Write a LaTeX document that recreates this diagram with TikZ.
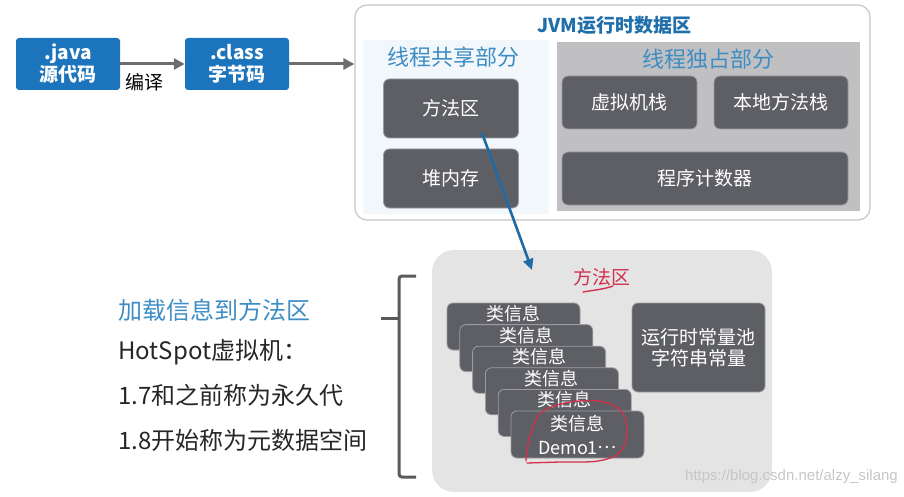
\documentclass[tikz,border=0pt]{standalone}
\usepackage{fontspec}
\setmainfont{Noto Sans CJK SC}
\newfontfamily\wmfont{Liberation Sans}
\usetikzlibrary{arrows.meta,calc}
\definecolor{jblue}{HTML}{1C75BC}
\definecolor{titleblue}{HTML}{1F6FAB}
\definecolor{subblue}{HTML}{3D8DC4}
\definecolor{dkgray}{HTML}{5E5F64}
\definecolor{boxedge}{HTML}{9C9CA0}
\definecolor{exclgray}{HTML}{C0C0C2}
\definecolor{sharedbg}{HTML}{F1F7FB}
\definecolor{mboxbg}{HTML}{E4E4E4}
\definecolor{arrgray}{HTML}{6D6D6D}
\definecolor{arrblue}{HTML}{1F6AA5}
\definecolor{redink}{HTML}{D2304C}
\definecolor{wmgray}{HTML}{C6C6C6}
\definecolor{brgray}{HTML}{5A5A5A}
\newcommand\fsz[2]{\fontsize{#1}{#2}\selectfont}
\tikzset{
  darkbox/.style={fill=dkgray, draw=boxedge, line width=0.8pt, rounded corners=6pt,
    text=white, font=\fsz{19pt}{21pt}, inner sep=0pt, align=center},
  bluebox/.style={fill=jblue, rounded corners=3pt, text=white, inner sep=0pt,
    minimum width=104pt, minimum height=52pt, align=center, font=\fsz{19pt}{22pt}\bfseries},
  garrow/.style={draw=arrgray, line width=3pt, -{Triangle[length=11pt,width=11pt]}},
  barrow/.style={draw=arrblue, line width=2.6pt, -{Triangle[length=11pt,width=10pt]}},
  subtitle/.style={text=subblue, font=\fsz{22pt}{24pt}},
  lefttext/.style={anchor=west, inner sep=0pt, font=\fsz{24pt}{26pt}},
  citext/.style={text=white, inner sep=0pt, font=\fsz{18pt}{24pt}, align=center},
}
\begin{document}
\begin{tikzpicture}[x=1pt,y=-1pt]
\useasboundingbox (0,0) rectangle (904,497);
% top-left boxes
\node[bluebox] (java) at (68,64) {.java\\源代码};
\node[bluebox] (cls) at (237,64) {.class\\字节码};
\node[font=\fsz{19pt}{21pt}, inner sep=0pt] (bianyi) at (144,82) {编译};
% JVM box
\node[draw=gray!45, line width=1.2pt, fill=white, rounded corners=12pt,
  minimum width=515pt, minimum height=215pt, inner sep=0pt] (jvm) at (612.5,112.5) {};
\draw[garrow] (java.east) -- (cls.west);
\draw[garrow] (cls.east) -- (cls.east -| jvm.west);
\node[text=titleblue, font=\fsz{19pt}{21pt}\bfseries, inner sep=0pt] (jvmtitle) at (614,25) {JVM运行时数据区};
\node[fill=sharedbg, minimum width=186pt, minimum height=174pt, inner sep=0pt] (shared) at (456,127) {};
\node[subtitle, inner sep=0pt] (shtitle) at (453,57) {线程共享部分};
\node[darkbox, minimum width=135pt, minimum height=59pt] (fq) at (451,108.5) {方法区};
\node[darkbox, minimum width=135pt, minimum height=59pt] (dnc) at (451,178.5) {堆内存};
\node[fill=exclgray, minimum width=303pt, minimum height=169pt, inner sep=0pt] (excl) at (708.5,126.5) {};
\node[subtitle, inner sep=0pt] (extitle) at (708,59) {线程独占部分};
\node[darkbox, minimum width=135pt, minimum height=53pt] (vm) at (629.5,102.5) {虚拟机栈};
\node[darkbox, minimum width=134pt, minimum height=53pt] (nm) at (781,102.5) {本地方法栈};
\node[darkbox, minimum width=286pt, minimum height=53pt] (pc) at (705,178.5) {程序计数器};
% method area detail
\node[fill=mboxbg, rounded corners=22pt, minimum width=340pt, minimum height=242pt, inner sep=0pt] (mbox) at (602,371) {};
\coordinate (bs) at (482,133);
\coordinate (be) at (532,270);
\draw[barrow] (bs) -- (be);
\node[text=redink, font=\fsz{19pt}{21pt}, inner sep=0pt] (mtitle) at (602,277) {方法区};
\draw[redink, line width=1.4pt, line cap=round] (583,292) .. controls (595,290) and (605,289) .. (613,286);
\foreach \k in {0,...,4} {
  \node[darkbox, minimum width=133pt, minimum height=47pt] (ci\k) at ({513.5+12.8*\k},{326.5+21.6*\k}) {};
  \node[citext] (ct\k) at ($(ci\k.north)+(0,11)$) {类信息};
}
\node[darkbox, minimum width=133pt, minimum height=47pt] (ci5) at (577.5,434.5) {};
\node[citext] (ct5) at ($(ci5.north)+(0,24)$) {类信息\\Demo1\raisebox{0.3em}{…}};
\node[darkbox, minimum width=133pt, minimum height=89pt] (rt) at (698.5,347.5) {运行时常量池\\字符串常量};
\draw[redink, line width=1.3pt, line cap=round] plot[smooth, tension=0.6] coordinates
  {(526,461) (529,440) (540,414) (565,403) (598,401) (620,410) (627,430) (620,452) (598,461) (560,462) (527,463)};
\node[text=wmgray, font=\wmfont\fsz{15pt}{17pt}, anchor=east, inner sep=0pt] (wm) at (898,477) {https://blog.csdn.net/alzy\_silang};
% bracket
\draw[brgray, line width=3pt, rounded corners=3pt] (416,276) -- (399,276) -- (399,477) -- (416,477);
\coordinate (tick) at (381,318);
\draw[brgray, line width=3pt] (tick) -- (400,318);
% left texts
\node[lefttext, text=subblue] (t1) at (118,310) {加载信息到方法区};
\node[lefttext, text=black!85] (t2) at (118,352) {HotSpot虚拟机：};
\node[lefttext, text=black!85] (t3) at (118,395) {1.7和之前称为永久代};
\node[lefttext, text=black!85] (t4) at (118,440) {1.8开始称为元数据空间};
\end{tikzpicture}
\end{document}
